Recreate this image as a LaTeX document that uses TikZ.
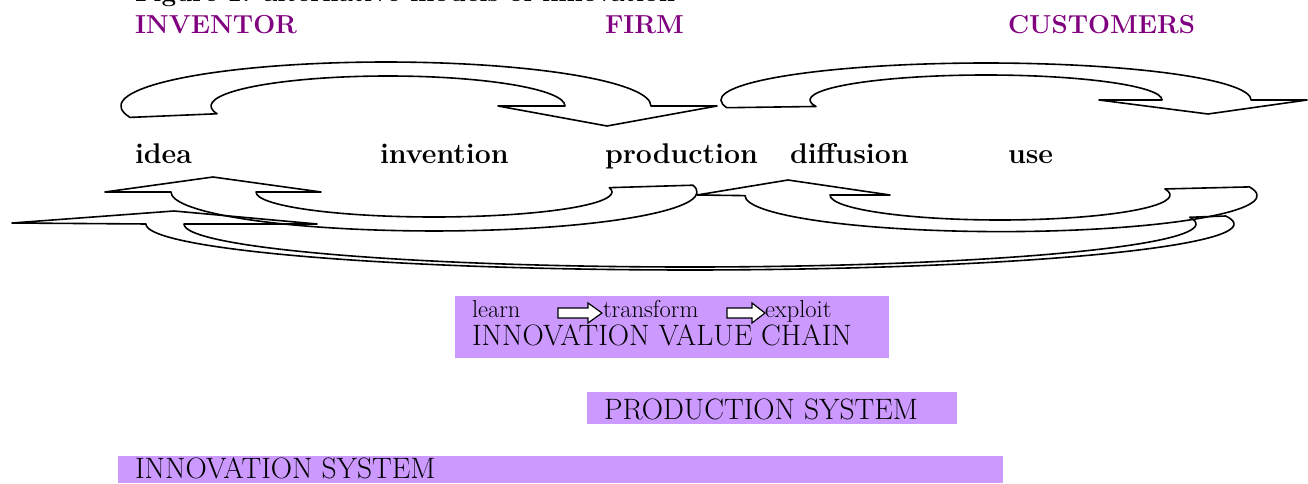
\documentclass[tikz,border=0pt]{standalone}
\usepackage{xcolor}
\usepackage{tikz}
\usetikzlibrary{positioning}

\definecolor{actorpurple}{HTML}{800080}
\definecolor{lilac}{HTML}{CC99FF}

\tikzset{
  lbl/.style={anchor=base west, inner sep=0pt, outer sep=0pt},
  actor/.style={lbl, text=actorpurple, font=\fontsize{26}{31}\selectfont\bfseries},
  stage/.style={lbl, font=\fontsize{28.5}{33}\selectfont\bfseries},
  boxtext/.style={lbl, font=\fontsize{29.5}{34}\selectfont},
  chainword/.style={lbl, font=\fontsize{24.5}{29}\selectfont},
  bandarrow/.style={draw=black, line width=1.6pt, line join=round},
  fatarrow/.style={draw=black, fill=white, line width=1.2pt, line join=miter},
  sysbox/.style={fill=lilac, draw=none}
}

\begin{document}
\begin{tikzpicture}[x=1pt, y=1pt]
  \useasboundingbox (0,0) rectangle (1308,483);

  % title (cut off at the top)
  \node[lbl, font=\fontsize{26}{31}\selectfont\bfseries] (title) at (135,481) {Figure 1: alternative models of innovation};

  % actors
  \node[actor] (inventor) at (135,449) {INVENTOR};
  \node[actor] (firm) at (605,449) {FIRM};
  \node[actor] (customers) at (1008,449) {CUSTOMERS};

  % stages
  \node[stage] (idea) at (135,320) {idea};
  \node[stage] (invention) at (380,320) {invention};
  \node[stage] (production) at (605,320) {production};
  \node[stage] (diffusion) at (790,320) {diffusion};
  \node[stage] (use) at (1008,320) {use};

  % curved arrow idea -> production
  \draw[bandarrow] (130,365.6) arc[start angle=195, end angle=0, x radius=265, y radius=44]
    -- (717,377) -- (607,357) -- (498,377)
    -- (565,377) arc[start angle=0, end angle=195, x radius=177, y radius=30] -- cycle;
  % curved arrow diffusion -> use
  \draw[bandarrow] (726.8,375.3) arc[start angle=192, end angle=0, x radius=265, y radius=37]
    -- (1307,383) -- (1208,369) -- (1099,383)
    -- (1162,383) arc[start angle=0, end angle=195, x radius=176, y radius=25] -- cycle;

  % feedback arrows underneath
  \draw[bandarrow] (12,260) -- (174,272) -- (317,259)
    -- (184,259) arc[start angle=180, end angle=369, x radius=506, y radius=43]
    -- (1225.7,267) arc[start angle=10, end angle=-180, x radius=544, y radius=46] -- cycle;
  \draw[bandarrow] (105,291) -- (213,306) -- (321,291)
    -- (256,291) arc[start angle=180, end angle=370, x radius=178, y radius=25]
    -- (693,297.8) arc[start angle=10, end angle=-180, x radius=263, y radius=39] -- cycle;
  \draw[bandarrow] (697,288) -- (788,303) -- (890,288)
    -- (830,288) arc[start angle=180, end angle=374, x radius=170, y radius=25]
    -- (1249.4,296.1) arc[start angle=14, end angle=-180, x radius=256, y radius=36] -- cycle;

  % innovation value chain
  \fill[sysbox] (455,125) rectangle (889,187);
  \node[chainword] (learn) at (472,166) {learn};
  \node[chainword] (transform) at (603,166) {transform};
  \node[chainword] (exploit) at (765,166) {exploit};
  \node[boxtext] (ivc) at (472,138) {INNOVATION VALUE CHAIN};
  \draw[fatarrow] (558,165) -- ++(30,0) -- ++(0,-5) -- ++(14,10) -- ++(-14,10) -- ++(0,-5) -- ++(-30,0) -- cycle;
  \draw[fatarrow] (727,165) -- ++(25,0) -- ++(0,-5) -- ++(13,10) -- ++(-13,10) -- ++(0,-5) -- ++(-25,0) -- cycle;

  % production system
  \fill[sysbox] (587,59) rectangle (957,91);
  \node[boxtext] (prodsys) at (604,64) {PRODUCTION SYSTEM};

  % innovation system
  \fill[sysbox] (118,0) rectangle (1003,27);
  \node[boxtext] (innosys) at (135,5) {INNOVATION SYSTEM};
\end{tikzpicture}
\end{document}
